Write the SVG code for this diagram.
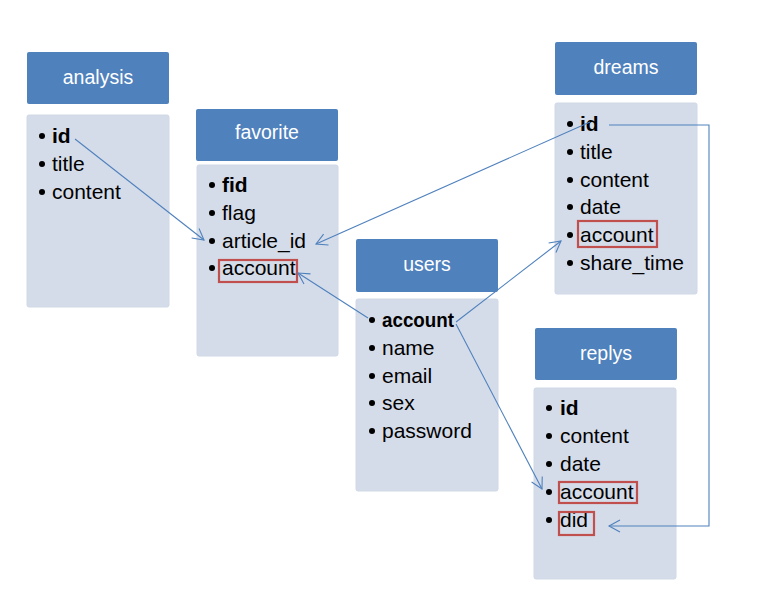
<svg xmlns="http://www.w3.org/2000/svg" width="759" height="612" viewBox="0 0 759 612">
<style>
.hdr{fill:#4f81bd;}
.body{fill:#d5dce9;stroke:#d0d8e6;stroke-width:1;}
.ht{font-family:"Liberation Sans",Arial,sans-serif;font-size:19.5px;fill:#ffffff;text-anchor:middle;}
.it{font-family:"Liberation Sans",Arial,sans-serif;font-size:21px;fill:#000000;}
.b{font-weight:bold;}
.dot{fill:#000000;}
.hl{fill:none;stroke:#c0504d;stroke-width:2.2;}
.con{fill:none;stroke:#4f81bd;stroke-width:1.1;}
</style>
<defs>
<marker id="arr" markerUnits="userSpaceOnUse" markerWidth="14" markerHeight="14" viewBox="0 0 14 14" refX="12" refY="7" orient="auto">
<path d="M1,1 L12,7 L1,13" fill="none" stroke="#4f81bd" stroke-width="1.1"/>
</marker>
</defs>
<rect width="759" height="612" fill="#ffffff"/>

<g id="analysis">
<rect class="hdr" x="27" y="52" width="142" height="52" rx="2"/>
<text class="ht" x="98" y="84">analysis</text>
<rect class="body" x="27" y="115" width="142" height="192" rx="2"/>
<circle class="dot" cx="42" cy="136" r="3"/><text class="it b" x="52" y="143">id</text>
<circle class="dot" cx="42" cy="164" r="3"/><text class="it" x="52" y="171">title</text>
<circle class="dot" cx="42" cy="192" r="3"/><text class="it" x="52" y="199">content</text>
</g>

<g id="favorite">
<rect class="hdr" x="196" y="109" width="142" height="52" rx="2"/>
<text class="ht" x="267" y="139">favorite</text>
<rect class="body" x="197" y="165" width="141" height="191" rx="2"/>
<circle class="dot" cx="212" cy="185" r="3"/><text class="it b" x="222" y="192">fid</text>
<circle class="dot" cx="212" cy="213" r="3"/><text class="it" x="222" y="220">flag</text>
<circle class="dot" cx="212" cy="241" r="3"/><text class="it" x="222" y="248">article_id</text>
<circle class="dot" cx="212" cy="268" r="3"/><text class="it" x="222" y="275">account</text>
<rect class="hl" x="219" y="260" width="78" height="22"/>
</g>

<g id="dreams">
<rect class="hdr" x="555" y="42" width="142" height="53" rx="2"/>
<text class="ht" x="626" y="74">dreams</text>
<rect class="body" x="555" y="103" width="142" height="191" rx="2"/>
<circle class="dot" cx="570" cy="124" r="3"/><text class="it b" x="580" y="131">id</text>
<circle class="dot" cx="570" cy="152" r="3"/><text class="it" x="580" y="159">title</text>
<circle class="dot" cx="570" cy="180" r="3"/><text class="it" x="580" y="187">content</text>
<circle class="dot" cx="570" cy="207" r="3"/><text class="it" x="580" y="214">date</text>
<circle class="dot" cx="570" cy="235" r="3"/><text class="it" x="580" y="242">account</text>
<circle class="dot" cx="570" cy="263" r="3"/><text class="it" x="580" y="270">share_time</text>
<rect class="hl" x="578" y="221" width="79" height="26"/>
</g>

<g id="users">
<rect class="hdr" x="356" y="239" width="142" height="53" rx="2"/>
<text class="ht" x="427" y="271">users</text>
<rect class="body" x="356" y="299" width="142" height="192" rx="2"/>
<circle class="dot" cx="372" cy="320" r="3"/><text class="it b" x="382" y="327" textLength="72" lengthAdjust="spacingAndGlyphs">account</text>
<circle class="dot" cx="372" cy="348" r="3"/><text class="it" x="382" y="355">name</text>
<circle class="dot" cx="372" cy="376" r="3"/><text class="it" x="382" y="383">email</text>
<circle class="dot" cx="372" cy="403" r="3"/><text class="it" x="382" y="410">sex</text>
<circle class="dot" cx="372" cy="431" r="3"/><text class="it" x="382" y="438">password</text>
</g>

<g id="replys">
<rect class="hdr" x="535" y="328" width="142" height="52" rx="2"/>
<text class="ht" x="606" y="360">replys</text>
<rect class="body" x="534" y="388" width="142" height="191" rx="2"/>
<circle class="dot" cx="549" cy="408" r="3"/><text class="it b" x="560" y="415">id</text>
<circle class="dot" cx="549" cy="436" r="3"/><text class="it" x="560" y="443">content</text>
<circle class="dot" cx="549" cy="464" r="3"/><text class="it" x="560" y="471">date</text>
<circle class="dot" cx="549" cy="492" r="3"/><text class="it" x="560" y="499">account</text>
<circle class="dot" cx="549" cy="520" r="3"/><text class="it" x="560" y="527">did</text>
<rect class="hl" x="559" y="482" width="78" height="21"/>
<rect class="hl" x="559" y="512" width="35" height="23"/>
</g>

<g id="connectors">
<path class="con" d="M75,139 L204,240" marker-end="url(#arr)"/>
<path class="con" d="M590,122 L316,244" marker-end="url(#arr)"/>
<path class="con" d="M368,318 L298,273" marker-end="url(#arr)"/>
<path class="con" d="M456,322 L561,241" marker-end="url(#arr)"/>
<path class="con" d="M456,324 L542,489" marker-end="url(#arr)"/>
<path class="con" d="M609,125 L709,125 L709,526 L609,526" marker-end="url(#arr)"/>
</g>
</svg>
